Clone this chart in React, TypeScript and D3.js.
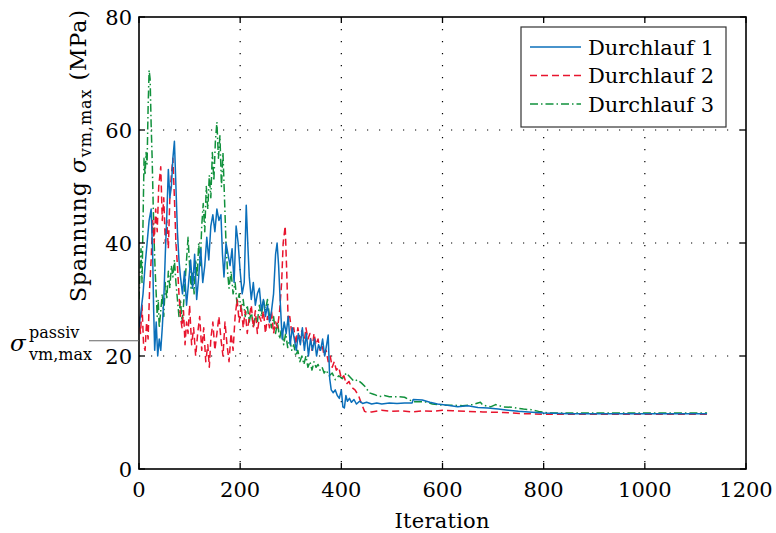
import React, { useEffect } from "react";
import * as d3 from "d3";

const xTicks = [0, 200, 400, 600, 800, 1000, 1200];
const yTicks = [0, 20, 40, 60, 80];
const passiveValue = 22.7;
const seriesNames = ["Durchlauf 1", "Durchlauf 2", "Durchlauf 3"];

const run1: [number, number][] = [[0,25],[4,28],[8,31],[12,36],[16,40],[20,44],[24,46],[27,38],[29,28],[31,21],[34,26],[37,20],[40,23],[43,21],[46,25],[49,30],[52,38],[55,45],[58,53],[61,48],[64,50],[67,55],[70,58],[73,50],[76,42],[79,37],[82,34],[86,31],[90,35],[94,29],[98,33],[102,37],[106,32],[110,38],[114,30],[118,34],[122,39],[126,33],[130,36],[134,41],[138,37],[142,43],[146,45],[150,42],[154,46],[158,44],[162,45],[165,38],[168,34],[172,40],[176,38],[180,36],[184,39],[188,33],[192,43],[196,40],[200,35],[204,31],[208,33],[212,46.7],[215,40],[218,34],[222,30],[226,33],[230,29],[234,31],[238,32],[242,28],[246,30],[250,27],[254,29],[258,26],[262,28],[266,31],[270,38],[273,40],[276,36],[279,30],[283,23],[287,26],[291,24],[295,27],[299,22],[303,25],[307,23],[311,21],[315,24],[319,22],[323,25],[327,21],[331,24],[335,20],[339,23],[343,21],[347,23],[351,20],[355,22],[359,21],[363,23],[367,20],[371,22],[374,23.7],[377,16],[380,14],[384,13.5],[388,14],[392,13],[396,12.5],[400,14],[403,11],[406,10.8],[409,13],[412,12],[416,12.5],[420,11.8],[425,12.3],[430,11.5],[436,12],[442,11.6],[450,11.8],[460,11.5],[470,11.7],[480,11.5],[495,11.7],[510,11.6],[525,11.7],[540,11.7],[542,12.3],[560,12.2],[575,11.8],[590,11.5],[610,11.3],[630,11.0],[650,11.2],[670,10.9],[690,10.8],[710,10.6],[730,10.4],[750,10.2],[770,10.1],[800,9.9],[850,9.8],[900,9.8],[1000,9.8],[1123,9.8]];

const run2: [number, number][] = [[0,27],[3,24],[6,29],[9,22],[12,21],[15,26],[18,23],[21,32],[24,37],[27,44],[30,40],[33,46],[36,42],[39,50],[43,53.5],[46,44],[49,48],[52,40],[55,44],[58,39],[61,48],[64,52],[67,55],[70,48],[73,40],[76,36],[79,31],[82,27],[85,25],[88,28],[91,22],[94,26],[97,24],[100,29],[104,22],[108,25],[112,20],[116,24],[120,27],[124,21],[128,25],[132,19],[136,22],[139,18],[142,23],[146,26],[150,21],[154,24],[158,27],[162,23],[166,20],[170,26],[174,22],[178,19],[182,24],[186,21],[190,27],[194,30],[198,26],[202,29],[206,25],[210,28],[214,24],[218,27],[222,29],[226,25],[230,28],[234,24],[238,27],[242,26],[246,28],[250,24],[254,27],[258,25],[262,28],[266,24],[270,26],[274,25],[278,28],[282,33],[285,40],[289,43],[292,35],[295,26],[298,27],[302,24],[306,25],[310,22],[314,25],[318,23],[322,24.5],[326,22],[330,25],[334,23],[338,24],[342,21],[346,24],[350,22],[354,23],[358,21],[362,22],[366,20],[370,21],[374,19],[378,20],[382,18],[386,19],[390,17.5],[395,18],[400,16],[405,16.5],[410,15],[415,15.5],[420,14.5],[427,14],[434,13],[440,11.5],[446,10.2],[452,10.0],[460,10.1],[480,10.4],[500,10.2],[520,10.3],[540,10.1],[560,10.3],[580,10.2],[600,10.4],[620,10.3],[650,10.2],[680,10.1],[720,10.0],[760,9.8],[800,9.7],[900,9.7],[1000,9.7],[1123,9.7]];

const run3: [number, number][] = [[0,30],[2,35],[4,39],[6,33],[8,44],[10,55],[12,52],[14,56],[16,54],[18,64],[20,70.6],[22,69],[24,61],[26,55],[28,47],[30,40],[32,35],[34,31],[36,27],[38,30],[40,25],[43,28],[46,31],[49,27],[52,33],[55,30],[58,35],[61,32],[64,36],[67,34],[70,37],[73,33],[76,30],[79,27],[82,30],[85,26],[88,29],[91,33],[94,37],[97,41],[100,36],[103,32],[106,35],[109,31],[112,37],[115,34],[118,40],[121,36],[124,43],[127,47],[130,42],[133,50],[136,46],[139,52],[142,48],[145,56],[148,51],[151,58],[154,61.4],[157,55],[160,59],[163,50],[166,56],[169,48],[172,40],[175,35],[178,32],[182,35],[186,31],[190,33],[194,29],[198,31],[202,28],[206,30],[210,27],[214,29],[218,26],[222,28],[226,25],[230,27],[234,26],[238,29],[242,27],[246,30],[250,28],[254,30],[258,27],[262,25],[266,27],[270,24],[274,26],[278,23],[282,25],[286,22],[290,24],[294,21.5],[298,23],[302,21],[306,22],[310,20],[314,21],[318,19],[322,20],[326,18.5],[330,20],[334,18],[338,19],[342,17.5],[346,19],[350,18],[354,18.5],[358,17.5],[362,18],[366,17],[370,17.5],[376,16.5],[382,17],[388,15.8],[395,16.5],[402,16],[410,17],[418,16.2],[425,15.5],[432,15.8],[440,15.2],[448,14.5],[455,13.5],[465,13.2],[475,12.8],[485,13.0],[495,12.8],[510,12.8],[525,12.7],[535,12.2],[545,11.9],[565,11.9],[580,11.5],[600,11.3],[620,11.3],[640,11.2],[660,11.4],[675,11.8],[680,11.3],[695,11.0],[705,11.4],[720,11.0],[740,10.9],[760,10.6],[775,10.5],[790,10.2],[810,9.9],[900,9.9],[1000,9.9],[1123,9.9]];

const W = 776, H = 533;
const L = 139, R = 746, T = 17, B = 469;
const FONT = "DejaVu Serif";

export default function App() {
  useEffect(() => {
    document.body.style.margin = "0";
    document.body.style.overflow = "hidden";
  }, []);
  const x = d3.scaleLinear().domain([0, 1200]).range([L, R]);
  const y = d3.scaleLinear().domain([0, 80]).range([B, T]);
  const line = d3.line<[number, number]>().x(d => x(d[0])).y(d => y(d[1]));
  const series = [
    { name: seriesNames[0], data: run1, color: "#0b6fba", dash: "none" },
    { name: seriesNames[1], data: run2, color: "#e8142d", dash: "7,4" },
    { name: seriesNames[2], data: run3, color: "#11913c", dash: "8,3,1.5,3" },
  ];
  return (
    <svg width={W} height={H} style={{ display: "block", position: "fixed", left: 0, top: 0, background: "#fff" }} fontFamily={FONT}>
      <defs>
        <clipPath id="plotclip"><rect x={L} y={T} width={R - L} height={B - T} /></clipPath>
      </defs>
      {xTicks.slice(1, -1).map(t => (
        <line key={"gx" + t} x1={x(t)} x2={x(t)} y1={T} y2={B} stroke="#000" strokeWidth={1.2} strokeDasharray="1.2,10.8" />
      ))}
      {yTicks.slice(1, -1).map(t => (
        <line key={"gy" + t} x1={L} x2={R} y1={y(t)} y2={y(t)} stroke="#000" strokeWidth={1.2} strokeDasharray="1.2,10.8" />
      ))}
      <g clipPath="url(#plotclip)">
        {series.slice().reverse().map(s => (
          <path key={s.name} d={line(s.data) || ""} fill="none" stroke={s.color} strokeWidth={1.5} strokeDasharray={s.dash} strokeLinejoin="round" />
        ))}
      </g>
      {xTicks.map(t => (
        <g key={"tx" + t}>
          <line x1={x(t)} x2={x(t)} y1={B} y2={B - 6} stroke="#000" strokeWidth={1.3} />
          <line x1={x(t)} x2={x(t)} y1={T} y2={T + 6} stroke="#000" strokeWidth={1.3} />
          <text x={x(t)} y={B + 28} textAnchor="middle" fontSize={21}>{t}</text>
        </g>
      ))}
      {yTicks.map(t => (
        <g key={"ty" + t}>
          <line x1={L} x2={L + 6} y1={y(t)} y2={y(t)} stroke="#000" strokeWidth={1.3} />
          <line x1={R} x2={R - 6} y1={y(t)} y2={y(t)} stroke="#000" strokeWidth={1.3} />
          <text x={L - 7} y={y(t) + 8} textAnchor="end" fontSize={21}>{t}</text>
        </g>
      ))}
      <rect x={L} y={T} width={R - L} height={B - T} fill="none" stroke="#000" strokeWidth={1.6} />
      <line x1={89} x2={L} y1={y(passiveValue)} y2={y(passiveValue)} stroke="#666" strokeWidth={1.2} />
      <text x={10} y={351} fontSize={23} fontStyle="italic">σ</text>
      <text x={29} y={338} fontSize={16}>passiv</text>
      <text x={29} y={360} fontSize={16}>vm,max</text>
      <text x={442} y={528} textAnchor="middle" fontSize={21} textLength={95} lengthAdjust="spacing">Iteration</text>
      <text transform={`translate(86, 156) rotate(-90)`} textAnchor="middle" fontSize={22} textLength={292} lengthAdjust="spacing">
        <tspan>Spannung </tspan>
        <tspan fontStyle="italic">σ</tspan>
        <tspan fontSize={16} dy={5}>vm,max</tspan>
        <tspan dy={-5}> (MPa)</tspan>
      </text>
      <rect x={521} y={27} width={205} height={100} fill="#fff" stroke="#333" strokeWidth={1.2} />
      {series.map((s, i) => (
        <g key={"lg" + i}>
          <line x1={530} x2={581} y1={47 + i * 28.5} y2={47 + i * 28.5} stroke={s.color} strokeWidth={1.5} strokeDasharray={s.dash} />
          <text x={588} y={54.5 + i * 28.5} fontSize={21} textLength={126} lengthAdjust="spacing">{s.name}</text>
        </g>
      ))}
    </svg>
  );
}
